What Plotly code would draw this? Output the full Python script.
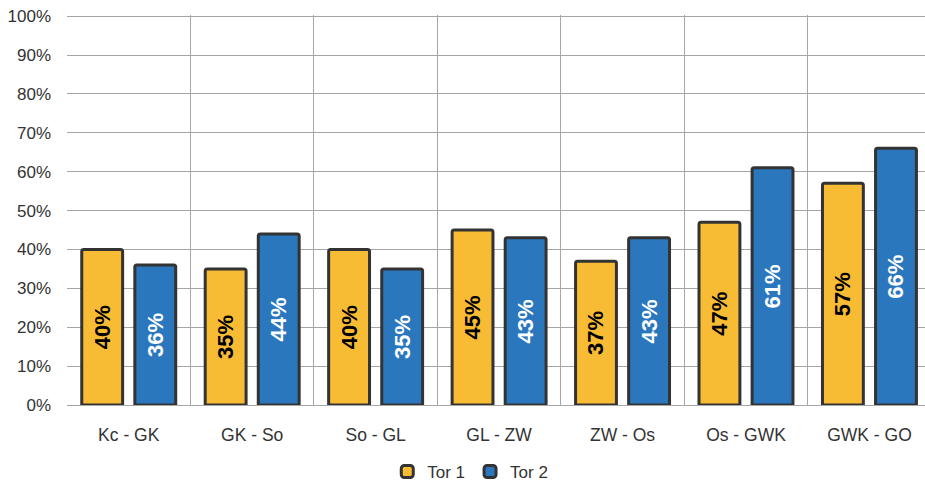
import plotly.graph_objects as go

# Section pairs along the route
categories = ["Kc - GK", "GK - So", "So - GL", "GL - ZW", "ZW - Os", "Os - GWK", "GWK - GO"]
tor1 = [0.40, 0.35, 0.40, 0.45, 0.37, 0.47, 0.57]
tor2 = [0.36, 0.44, 0.35, 0.43, 0.43, 0.61, 0.66]
y_ticks = [i / 10 for i in range(11)]
y_tick_labels = [f"{i * 10}%" for i in range(11)]

FONT = "Liberation Sans, Arial, sans-serif"
EDGE = "#333333"
GRID = "#a6a6a6"

fig = go.Figure()
fig.add_trace(go.Bar(
    name="Tor 1", x=categories, y=tor1,
    marker=dict(color="#F8BC34", line=dict(color=EDGE, width=3), cornerradius=2),
    texttemplate="%{y:.0%}", textposition="inside", insidetextanchor="middle",
    textangle=-90, textfont=dict(family=FONT, size=22, color="#000000", weight="bold"),
))
fig.add_trace(go.Bar(
    name="Tor 2", x=categories, y=tor2,
    marker=dict(color="#2B77BE", line=dict(color=EDGE, width=3), cornerradius=2),
    texttemplate="%{y:.0%}", textposition="inside", insidetextanchor="middle",
    textangle=-90, textfont=dict(family=FONT, size=22, color="#ffffff", weight="bold"),
))

fig.update_layout(
    width=925, height=486,
    margin=dict(l=67, r=0, t=15, b=81, autoexpand=False),
    paper_bgcolor="white", plot_bgcolor="white",
    barmode="group", bargap=0.14, bargroupgap=0.23,
    font=dict(family=FONT, size=17, color="#333333"),
    showlegend=True,
    legend=dict(orientation="h", x=0.47, xanchor="center",
                yref="container", y=0.029, yanchor="middle",
                font=dict(size=17, color="#333333"), itemwidth=30, tracegroupgap=0),
)
fig.update_xaxes(
    type="category", range=[-0.5, 6.45], tickson="boundaries",
    showgrid=True, gridcolor=GRID, gridwidth=1, automargin=False,
    ticks="", ticklabelstandoff=17, showline=False, zeroline=False,
    tickfont=dict(size=17.5),
)
fig.update_yaxes(
    range=[0, 1.003], tickvals=y_ticks, ticktext=y_tick_labels,
    showgrid=True, gridcolor=GRID, gridwidth=1, automargin=False,
    zeroline=True, zerolinecolor=GRID, zerolinewidth=1,
    ticks="", ticklabelstandoff=15, showline=False,
)

fig.write_html("out.html")
